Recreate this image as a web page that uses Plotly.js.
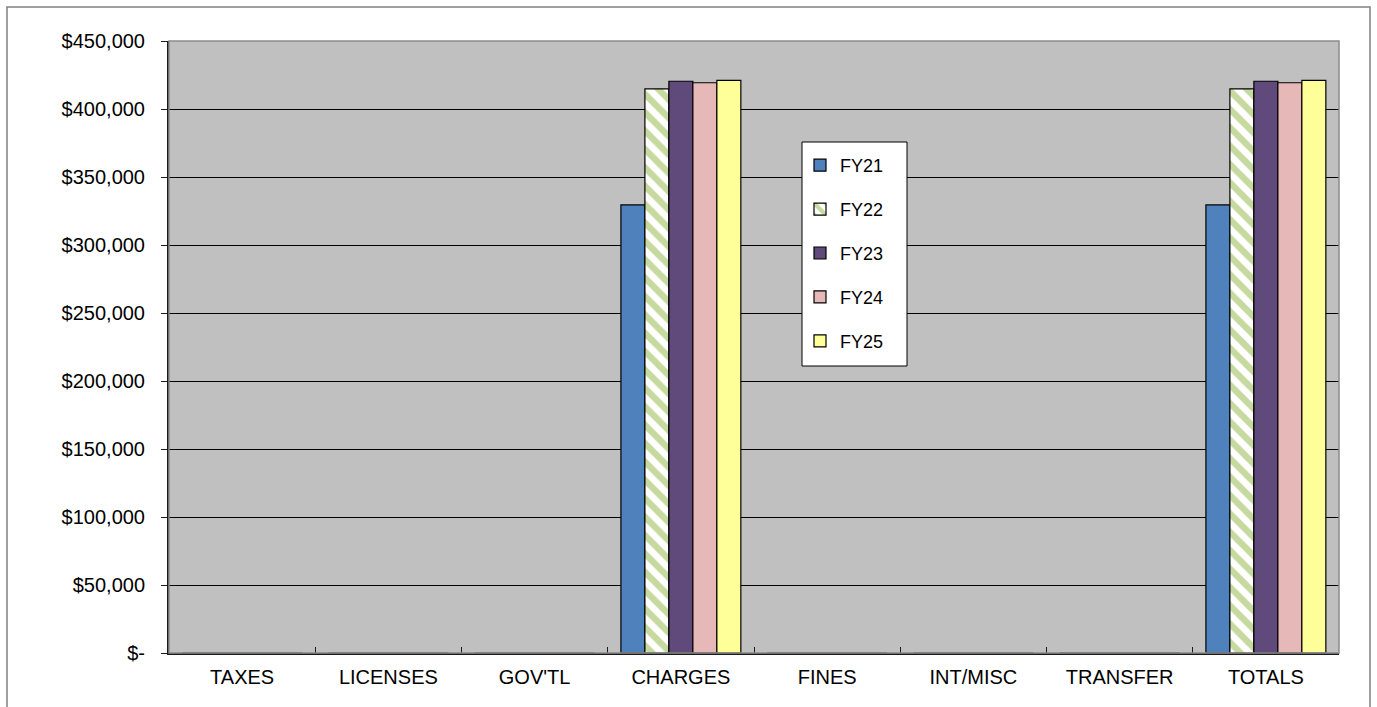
<!DOCTYPE html>
<html>
<head>
<meta charset="utf-8">
<script src="https://cdn.plot.ly/plotly-3.0.1.min.js"></script>
<style>
  html, body { margin: 0; padding: 0; background: #ffffff; }
  #chart { width: 1377px; height: 707px; }
</style>
</head>
<body>
<div id="chart"></div>
<script>
// Revenue categories along the x axis
const categories = ["TAXES", "LICENSES", "GOV'TL", "CHARGES", "FINES", "INT/MISC", "TRANSFER", "TOTALS"];

// Revenue by fiscal year (dollars)
const fy21 = [0, 0, 0, 329500, 0, 0, 0, 329500];
const fy22 = [0, 0, 0, 414800, 0, 0, 0, 414800];
const fy23 = [0, 0, 0, 420400, 0, 0, 0, 420400];
const fy24 = [0, 0, 0, 419300, 0, 0, 0, 419300];
const fy25 = [0, 0, 0, 421100, 0, 0, 0, 421100];

const seriesNames = ["FY21", "FY22", "FY23", "FY24", "FY25"];

// Y axis ticks
const yTickVals = [0, 50000, 100000, 150000, 200000, 250000, 300000, 350000, 400000, 450000];
const yTickText = ["$-", "$50,000", "$100,000", "$150,000", "$200,000", "$250,000", "$300,000", "$350,000", "$400,000", "$450,000"];

const FONT = "Liberation Sans, Arial, sans-serif";

function barTrace(name, values, color, pattern) {
  const marker = { color: color, line: { color: "#000000", width: 1.2 } };
  if (pattern) marker.pattern = pattern;
  return {
    type: "bar",
    name: name,
    x: categories,
    y: values,
    marker: marker,
    legendgroup: name,
    hoverinfo: "x+y+name"
  };
}

const data = [
  barTrace(seriesNames[0], fy21, "#4F81BD"),
  barTrace(seriesNames[1], fy22, "#FFFFFF", { shape: "\\", fgcolor: "#8DB33E", bgcolor: "#FFFFFF", size: 13, solidity: 0.5, fillmode: "overlay" }),
  barTrace(seriesNames[2], fy23, "#604A7B"),
  barTrace(seriesNames[3], fy24, "#E6B9B8"),
  barTrace(seriesNames[4], fy25, "#FFFF99")
];

// plot area geometry in pixels, used to place the frame and legend box in paper units
const W = 1377, H = 707;
const mL = 169, mR = 38, mT = 41, mB = 54;
const pw = W - mL - mR, ph = H - mT - mB;
const px = v => (v - mL) / pw;
const py = v => (H - mB - v) / ph;

const layout = {
  width: W,
  height: H,
  margin: { l: mL, r: mR, t: mT, b: mB, pad: 0 },
  paper_bgcolor: "#FFFFFF",
  plot_bgcolor: "#C0C0C0",
  font: { family: FONT, size: 20, color: "#000000" },
  barmode: "group",
  bargap: 0.18,
  bargroupgap: 0,
  showlegend: true,
  legend: {
    x: px(800), y: py(147), xanchor: "left", yanchor: "top",
    bgcolor: "rgba(0,0,0,0)",
    borderwidth: 0,
    font: { family: FONT, size: 18, color: "#000000" },
    tracegroupgap: 17.5,
    itemwidth: 30,
    traceorder: "grouped"
  },
  xaxis: {
    type: "category",
    showgrid: false,
    showline: true,
    linecolor: "#1a1a1a",
    linewidth: 2,
    ticks: "inside",
    tickson: "boundaries",
    ticklen: 6,
    tickcolor: "#1a1a1a",
    ticklabelstandoff: 5,
    tickfont: { family: FONT, size: 20, color: "#000000" },
    zeroline: false,
    fixedrange: true
  },
  yaxis: {
    range: [0, 450000],
    tickmode: "array",
    tickvals: yTickVals,
    ticktext: yTickText,
    showgrid: true,
    gridcolor: "#000000",
    gridwidth: 1,
    showline: true,
    linecolor: "#1a1a1a",
    linewidth: 2,
    ticks: "outside",
    ticklen: 6,
    tickcolor: "#1a1a1a",
    ticklabelstandoff: 12,
    tickfont: { family: FONT, size: 20, color: "#000000" },
    zeroline: false,
    fixedrange: true
  },
  shapes: [
    // outer chart frame
    { type: "rect", xref: "paper", yref: "paper", layer: "below",
      x0: px(7), x1: px(1370), y0: py(740), y1: py(7),
      line: { color: "#808080", width: 1.5 }, fillcolor: "rgba(0,0,0,0)" },
    // plot area frame (top and right edges)
    { type: "rect", xref: "paper", yref: "paper", layer: "above",
      x0: 0, x1: 1, y0: 0, y1: 1,
      line: { color: "#8c8c8c", width: 1.5 }, fillcolor: "rgba(0,0,0,0)" },
    // legend box
    { type: "rect", xref: "paper", yref: "paper", layer: "above",
      x0: px(802), x1: px(907), y0: py(366), y1: py(142),
      line: { color: "#000000", width: 1 }, fillcolor: "#FFFFFF" }
  ]
};

Plotly.newPlot("chart", data, layout, { displayModeBar: false, staticPlot: true });
</script>
</body>
</html>
